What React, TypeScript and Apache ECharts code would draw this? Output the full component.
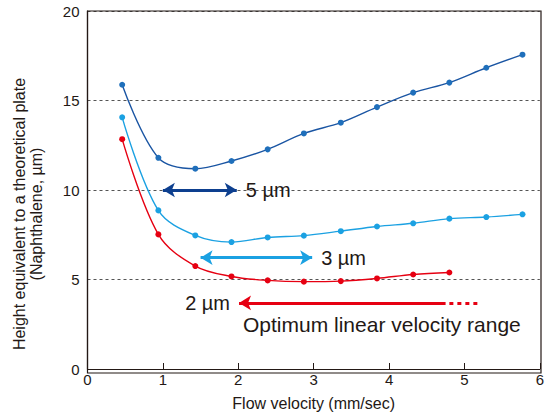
import React, { useEffect, useRef } from "react";
import * as echarts from "echarts";

const flowVelocity = [0.46, 0.94, 1.43, 1.91, 2.39, 2.87, 3.36, 3.84, 4.32, 4.8, 5.29, 5.77];
const hetp5um = [15.88, 11.8, 11.19, 11.62, 12.27, 13.16, 13.76, 14.63, 15.44, 16.0, 16.83, 17.56];
const hetp3um = [14.06, 8.86, 7.46, 7.09, 7.35, 7.45, 7.7, 7.96, 8.14, 8.4, 8.49, 8.64];
const hetp2um = [12.84, 7.52, 5.75, 5.17, 4.95, 4.88, 4.91, 5.06, 5.28, 5.39];

const xTicks = [0, 1, 2, 3, 4, 5, 6];
const yTicks = [0, 5, 10, 15, 20];

const FONT = "'Liberation Sans', Arial, sans-serif";
const TEXT = "#231815";
const C5 = "#1a55a3";
const C5DOT = "#1f6fbb";
const C5ARROW = "#0d3f8f";
const C3 = "#1ba1e2";
const C2 = "#e60012";

function pairs(xs: number[], ys: number[]) {
  return ys.map((y, i) => [xs[i], y]);
}

export default function App() {
  const ref = useRef<HTMLDivElement>(null);
  useEffect(() => {
    document.body.style.margin = "0";
    if (!ref.current) return;
    const chart = echarts.init(ref.current, null, { renderer: "svg" });
    const seriesDef = (name: string, ys: number[], lineColor: string, dotColor: string, markLine: any) => ({
      name,
      type: "line",
      data: pairs(flowVelocity, ys),
      smooth: 0.35,
      symbol: "circle",
      symbolSize: 6,
      itemStyle: { color: dotColor },
      lineStyle: { color: lineColor, width: 1.4 },
      markLine,
      z: 3,
    });
    const arrowLabel = (text: string, pos: string) => ({
      show: true,
      formatter: text,
      position: pos,
      distance: 9,
      color: TEXT,
      fontSize: 20,
      fontFamily: FONT,
    });
    chart.setOption({
      animation: false,
      grid: { left: 87.5, right: 6, top: 11, bottom: 43 },
      xAxis: {
        type: "value",
        min: xTicks[0],
        max: xTicks[xTicks.length - 1],
        interval: 1,
        name: "Flow velocity (mm/sec)",
        nameLocation: "middle",
        nameGap: 26,
        nameTextStyle: { color: TEXT, fontSize: 16, fontFamily: FONT },
        axisLine: { show: true, lineStyle: { color: "#231815", width: 1.2 } },
        axisTick: { show: true, inside: true, length: 6, lineStyle: { color: "#231815" } },
        axisLabel: { color: TEXT, fontSize: 15, fontFamily: FONT, margin: 3 },
        splitLine: { show: false },
      },
      yAxis: {
        type: "value",
        min: yTicks[0],
        max: yTicks[yTicks.length - 1],
        interval: 5,
        axisLine: { show: true, lineStyle: { color: "#231815", width: 1.2 } },
        axisTick: { show: false },
        axisLabel: { color: TEXT, fontSize: 15, fontFamily: FONT, margin: 8 },
        splitLine: { show: true, lineStyle: { color: "#555", type: [3, 3], width: 1 } },
      },
      graphic: [
        {
          type: "rect",
          shape: { x: 87.5, y: 11, width: 547 - 6 - 87.5, height: 416 - 43 - 11 },
          style: { fill: "none", stroke: "#231815", lineWidth: 1.2 },
          silent: true,
          z: 10,
        },
        {
          type: "text",
          x: 28,
          y: 214,
          rotation: Math.PI / 2,
          style: {
            text: "Height equivalent to a theoretical plate\n(Naphthalene, µm)",
            fill: TEXT,
            font: `16px ${FONT}`,
            align: "center",
            verticalAlign: "middle",
            lineHeight: 17,
          },
        },
        {
          type: "text",
          x: 243,
          y: 324,
          style: {
            text: "Optimum linear velocity range",
            fill: TEXT,
            font: `21px ${FONT}`,
            verticalAlign: "middle",
          },
        },
      ],
      series: [
        seriesDef("5 µm", hetp5um, C5, C5DOT, {
          silent: true,
          symbolSize: [11, 12],
          lineStyle: { color: C5ARROW, width: 3, type: "solid" },
          label: arrowLabel("5 µm", "end"),
          data: [[{ coord: [1.0, 10], symbol: "arrow" }, { coord: [1.98, 10], symbol: "arrow" }]],
        }),
        seriesDef("3 µm", hetp3um, C3, C3, {
          silent: true,
          symbolSize: [11, 12],
          lineStyle: { color: C3, width: 3, type: "solid" },
          label: arrowLabel("3 µm", "end"),
          data: [[{ coord: [1.5, 6.22], symbol: "arrow" }, { coord: [2.98, 6.22], symbol: "arrow" }]],
        }),
        seriesDef("2 µm", hetp2um, C2, C2, {
          silent: true,
          symbolSize: [11, 12],
          lineStyle: { color: C2, width: 3, type: "solid" },
          data: [
            [
              { coord: [2.01, 3.69], symbol: "arrow", label: arrowLabel("2 µm", "start") },
              { coord: [4.75, 3.69], symbol: "none" },
            ],
            [
              {
                coord: [4.8, 3.69],
                symbol: "none",
                label: { show: false },
                lineStyle: { type: [4, 4], width: 3, color: C2, cap: "butt" },
              },
              { coord: [5.2, 3.69], symbol: "none" },
            ],
          ],
        }),
      ],
    });
    return () => chart.dispose();
  }, []);
  return <div ref={ref} style={{ width: 547, height: 416 }} />;
}
